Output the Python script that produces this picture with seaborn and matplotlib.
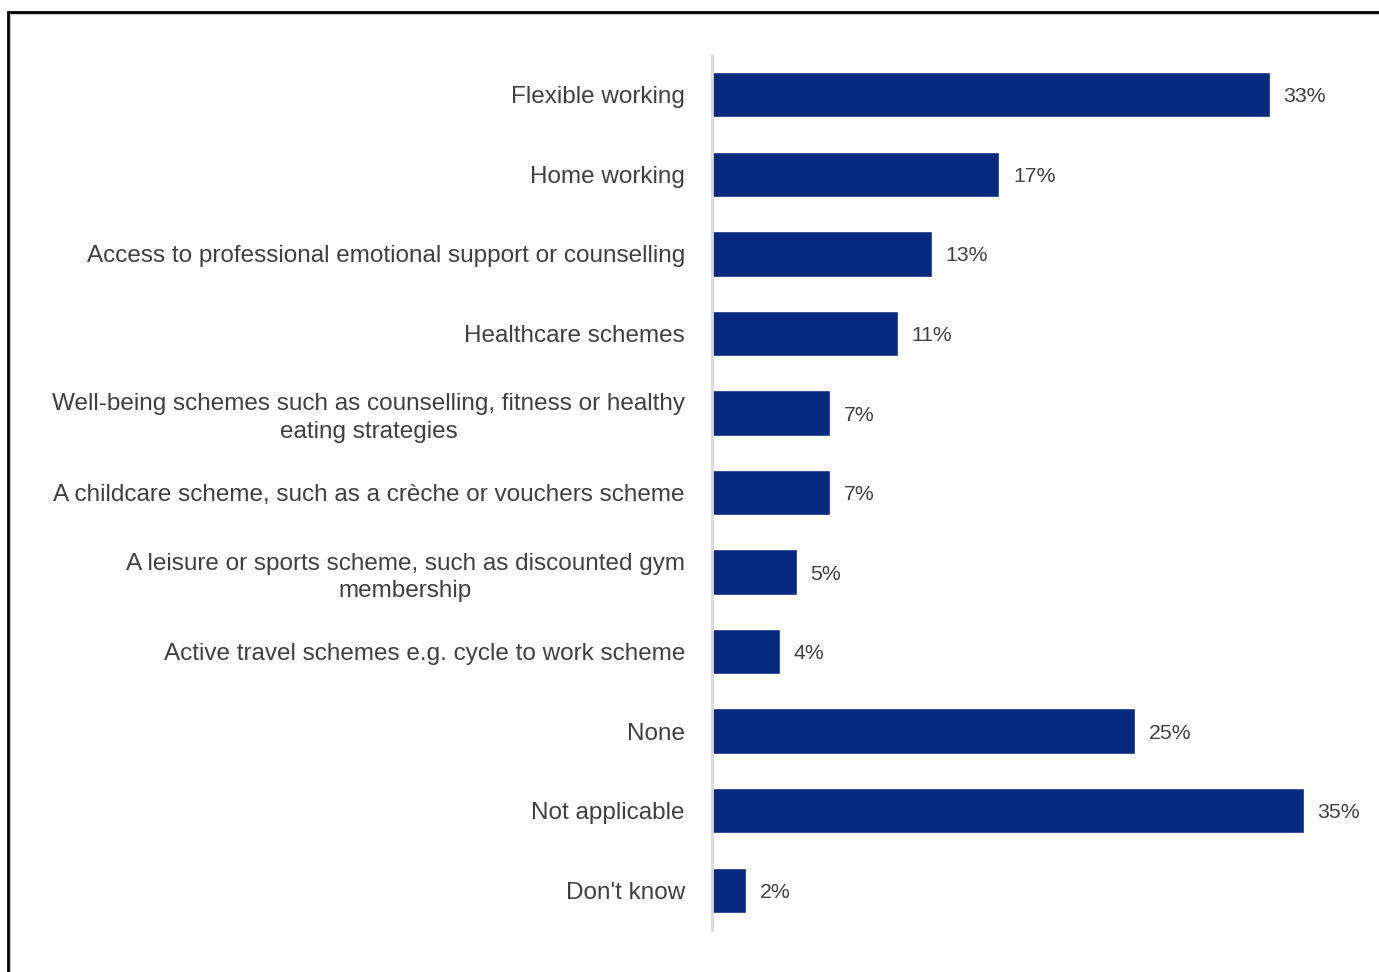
import matplotlib
matplotlib.use("Agg")
import matplotlib.pyplot as plt
from matplotlib.patches import Rectangle
import seaborn as sns
import pandas as pd

# Benefits offered by employers (share of respondents)
categories = [
    "Flexible working",
    "Home working",
    "Access to professional emotional support or counselling",
    "Healthcare schemes",
    "Well-being schemes such as counselling, fitness or healthy\neating strategies",
    "A childcare scheme, such as a crèche or vouchers scheme",
    "A leisure or sports scheme, such as discounted gym\nmembership",
    "Active travel schemes e.g. cycle to work scheme",
    "None",
    "Not applicable",
    "Don't know",
]
values = [33, 17, 13, 11, 7, 7, 5, 4, 25, 35, 2]
value_labels = ["33%", "17%", "13%", "11%", "7%", "7%", "5%", "4%", "25%", "35%", "2%"]

BAR_COLOR = "#082A7E"
TEXT_COLOR = "#404040"

sns.set_theme(style="white")
plt.rcParams["font.family"] = ["Liberation Sans", "DejaVu Sans"]

df = pd.DataFrame({"category": categories, "value": values})

W, H = 1379, 972
fig = plt.figure(figsize=(W / 100, H / 100), dpi=100)
ax = fig.add_axes([712 / W, 1 - 930 / H, 1 - 712 / W, (930 - 55) / H])

sns.barplot(data=df, y="category", x="value", orient="h", color=BAR_COLOR,
            saturation=1, width=0.57, ax=ax)

ax.set_xlim(0, (W - 712) / 16.9)
ax.set_ylim(len(categories) - 0.5, -0.5)
ax.set_xlabel("")
ax.set_ylabel("")
ax.set_xticks([])

for side in ("top", "right", "bottom"):
    ax.spines[side].set_visible(False)
ax.spines["left"].set_color("#D9D9D9")
ax.spines["left"].set_linewidth(2)

ax.tick_params(axis="y", length=0, pad=19.5, labelsize=17.5, labelcolor=TEXT_COLOR)
for lbl in ax.get_yticklabels():
    lbl.set_multialignment("center")
    lbl.set_linespacing(1.3)

for bar, txt in zip(ax.patches, value_labels):
    ax.annotate(txt, (bar.get_width(), bar.get_y() + bar.get_height() / 2),
                xytext=(10, -1.5), textcoords="offset points",
                va="center", ha="left", fontsize=15.3, color=TEXT_COLOR)

# Outer frame (left and top edges visible)
fig.patches.append(Rectangle((10 / W, -0.1), 1.2, 1.1 - 14 / H, transform=fig.transFigure,
                             fill=False, edgecolor="#C8C8C8", linewidth=1.5, zorder=0))
fig.patches.append(Rectangle((8 / W, -0.1), 1.2, 1.1 - 12 / H, transform=fig.transFigure,
                             fill=False, edgecolor="black", linewidth=2, zorder=1))

fig.savefig("out.png", dpi=100, facecolor="white")
